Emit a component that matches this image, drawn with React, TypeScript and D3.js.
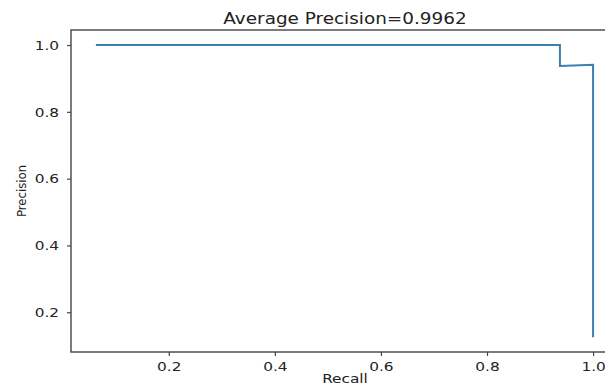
import React, { useEffect, useRef } from "react";
import * as d3 from "d3";

// precision-recall curve points
const recall = [0.0625, 0.9375, 0.9375, 1.0, 1.0];
const precision = [1.0, 1.0, 0.9375, 0.941, 0.125];
const xTicks = [0.2, 0.4, 0.6, 0.8, 1.0];
const yTicks = [0.2, 0.4, 0.6, 0.8, 1.0];
const title = "Average Precision=0.9962";

const App = () => {
  const ref = useRef<SVGSVGElement>(null);

  useEffect(() => {
    const svg = d3.select(ref.current);
    svg.selectAll("*").remove();
    const left = 71, top = 30, right = 618, bottom = 352;
    const font = "DejaVu Sans, sans-serif";
    const sx = 1.18; // the reference text is stretched horizontally

    const x = d3.scaleLinear().domain([0.0156, 1.047]).range([left, right]);
    const y = d3.scaleLinear().domain([0.081, 1.045]).range([bottom, top]);

    // frame
    svg
      .append("rect")
      .attr("x", left)
      .attr("y", top)
      .attr("width", right - left)
      .attr("height", bottom - top)
      .attr("fill", "none")
      .attr("stroke", "#444")
      .attr("stroke-width", 1.4);

    const xAxis = svg
      .append("g")
      .attr("transform", `translate(0,${bottom})`)
      .call(d3.axisBottom(x).tickValues(xTicks).tickFormat(d3.format(".1f")).tickSize(4));
    const yAxis = svg
      .append("g")
      .attr("transform", `translate(${left},0)`)
      .call(d3.axisLeft(y).tickValues(yTicks).tickFormat(d3.format(".1f")).tickSize(4));
    [xAxis, yAxis].forEach((g) => {
      g.select(".domain").remove();
      g.selectAll("line").attr("stroke", "#444").attr("stroke-width", 1.2);
      g.selectAll("text")
        .attr("fill", "#222")
        .style("font-family", font)
        .style("font-size", "13px");
    });
    xAxis
      .selectAll("text")
      .attr("x", 0)
      .attr("y", 19)
      .attr("dy", null)
      .attr("transform", `scale(${sx},1)`);
    yAxis
      .selectAll("text")
      .attr("x", -12 / sx)
      .attr("transform", `scale(${sx},1)`);

    const pts = recall.map((r, i) => [r, precision[i]] as [number, number]);
    svg
      .append("path")
      .attr("d", d3.line().x((d) => x(d[0])).y((d) => y(d[1]))(pts))
      .attr("fill", "none")
      .attr("stroke", "#3b7fae")
      .attr("stroke-width", 2);

    svg
      .append("text")
      .attr("transform", `translate(345,24) scale(${sx * 1.04},1)`)
      .attr("text-anchor", "middle")
      .style("font-family", font)
      .style("font-size", "15px")
      .attr("fill", "#222")
      .text(title);

    svg
      .append("text")
      .attr("transform", `translate(345,383) scale(${sx},1)`)
      .attr("text-anchor", "middle")
      .style("font-family", font)
      .style("font-size", "13px")
      .attr("fill", "#222")
      .text("Recall");

    svg
      .append("text")
      .attr("transform", `translate(26,${(top + bottom) / 2}) rotate(-90)`)
      .attr("text-anchor", "middle")
      .style("font-family", "Liberation Sans Narrow, DejaVu Sans Condensed, sans-serif")
      .style("font-size", "13px")
      .attr("fill", "#222")
      .text("Precision");
  }, []);

  return (
    <svg
      ref={ref}
      width={605}
      height={390}
      style={{ position: "absolute", left: 0, top: 0, background: "#fff" }}
    />
  );
};

export default App;
